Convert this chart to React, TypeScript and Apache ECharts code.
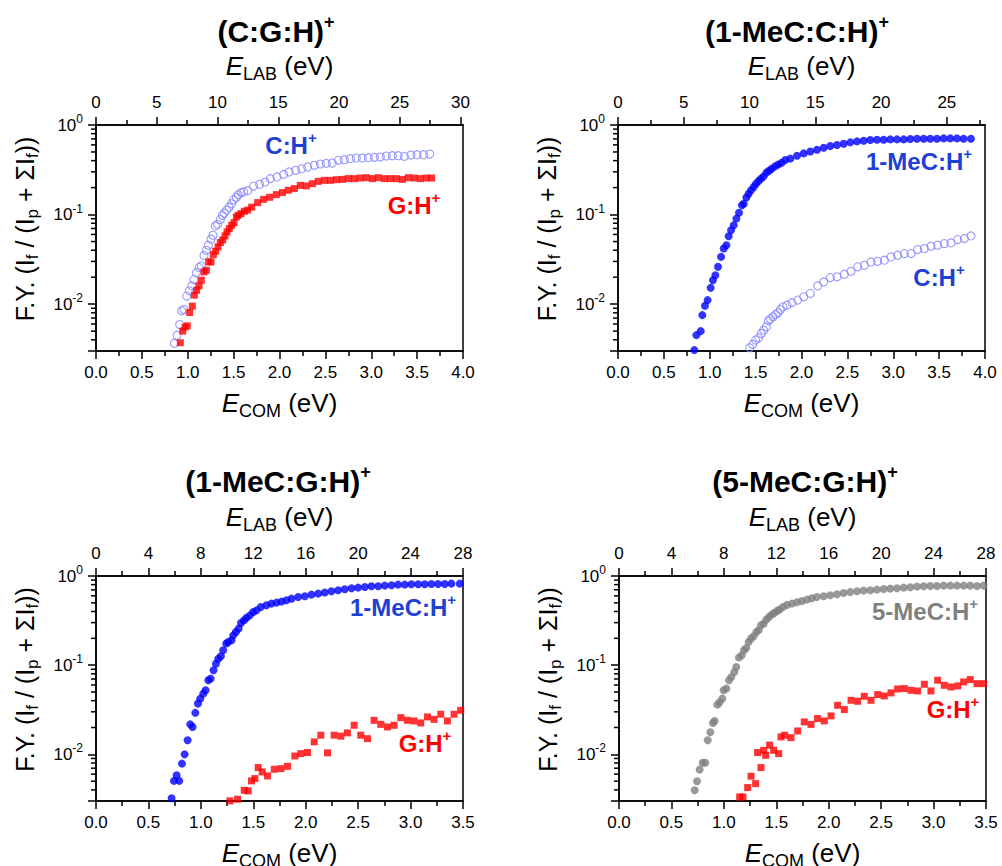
import React, { useEffect, useRef } from 'react';
import * as echarts from 'echarts';

// ---------- DATA ----------
// Panel 1: (C:G:H)+  [E_COM (eV), fragmentation yield]
const p1CH: number[][] = [[0.854,0.00365],[0.883,0.00451],[0.912,0.00593],[0.934,0.00843],[0.959,0.00871],[0.988,0.0123],[1.017,0.0141],[1.043,0.016],[1.068,0.0188],[1.094,0.0225],[1.123,0.0256],[1.148,0.0268],[1.177,0.0349],[1.203,0.04],[1.224,0.0455],[1.253,0.0531],[1.275,0.0588],[1.301,0.0747],[1.326,0.078],[1.355,0.0879],[1.377,0.0982],[1.399,0.104],[1.424,0.112],[1.45,0.121],[1.479,0.132],[1.5,0.146],[1.53,0.156],[1.551,0.167],[1.58,0.176],[1.609,0.179],[1.653,0.185],[1.718,0.208],[1.784,0.218],[1.842,0.231],[1.9,0.252],[1.973,0.263],[2.045,0.281],[2.104,0.299],[2.176,0.312],[2.242,0.325],[2.307,0.34],[2.38,0.355],[2.445,0.367],[2.51,0.373],[2.576,0.376],[2.641,0.403],[2.707,0.41],[2.772,0.421],[2.837,0.428],[2.903,0.428],[2.968,0.432],[3.034,0.435],[3.099,0.439],[3.164,0.451],[3.23,0.454],[3.295,0.454],[3.361,0.447],[3.433,0.462],[3.499,0.466],[3.571,0.466],[3.637,0.474]];
const p1GH: number[][] = [[0.919,0.00371],[0.945,0.005],[0.97,0.00554],[0.995,0.00573],[1.021,0.00807],[1.05,0.0095],[1.072,0.0126],[1.097,0.0143],[1.123,0.016],[1.148,0.0185],[1.177,0.0229],[1.203,0.0239],[1.228,0.0296],[1.253,0.0296],[1.279,0.0357],[1.304,0.039],[1.33,0.0436],[1.355,0.0487],[1.381,0.0521],[1.406,0.0578],[1.428,0.064],[1.453,0.0697],[1.479,0.076],[1.504,0.0813],[1.53,0.0941],[1.551,0.0982],[1.58,0.1025],[1.617,0.109],[1.653,0.112],[1.697,0.121],[1.762,0.136],[1.827,0.148],[1.893,0.156],[1.965,0.167],[2.031,0.176],[2.096,0.187],[2.162,0.195],[2.227,0.212],[2.292,0.209],[2.358,0.221],[2.423,0.235],[2.489,0.241],[2.554,0.241],[2.619,0.245],[2.685,0.247],[2.75,0.252],[2.816,0.252],[2.881,0.256],[2.946,0.258],[3.012,0.252],[3.077,0.258],[3.143,0.252],[3.208,0.252],[3.273,0.252],[3.339,0.247],[3.404,0.258],[3.47,0.256],[3.535,0.252],[3.6,0.256],[3.658,0.256]];

// Panel 2: (1-MeC:C:H)+
const p2MeCH: number[][] = [[0.832,0.00307],[0.854,0.00451],[0.901,0.005],[0.919,0.00754],[0.948,0.00958],[0.977,0.0111],[1.01,0.0152],[1.035,0.0185],[1.061,0.021],[1.09,0.0261],[1.123,0.0337],[1.152,0.0418],[1.181,0.0455],[1.206,0.0573],[1.232,0.0668],[1.261,0.076],[1.29,0.0902],[1.319,0.105],[1.351,0.127],[1.37,0.132],[1.399,0.155],[1.424,0.171],[1.45,0.187],[1.479,0.203],[1.504,0.221],[1.533,0.237],[1.559,0.252],[1.588,0.267],[1.617,0.294],[1.646,0.309],[1.675,0.325],[1.711,0.345],[1.747,0.363],[1.784,0.379],[1.824,0.406],[1.878,0.421],[1.951,0.454],[2.024,0.482],[2.096,0.507],[2.169,0.53],[2.242,0.557],[2.314,0.582],[2.387,0.597],[2.46,0.618],[2.532,0.64],[2.605,0.656],[2.678,0.668],[2.75,0.679],[2.823,0.685],[2.896,0.685],[2.968,0.691],[3.041,0.691],[3.114,0.691],[3.186,0.697],[3.259,0.703],[3.332,0.703],[3.404,0.703],[3.477,0.703],[3.55,0.709],[3.622,0.709],[3.695,0.709],[3.767,0.703],[3.847,0.703]];
const p2CH: number[][] = [[1.435,0.00326],[1.468,0.00355],[1.5,0.00397],[1.533,0.00421],[1.562,0.00471],[1.588,0.00513],[1.617,0.00559],[1.639,0.00652],[1.66,0.00681],[1.689,0.00723],[1.718,0.00767],[1.744,0.008],[1.769,0.00871],[1.798,0.00933],[1.842,0.00975],[1.896,0.0104],[1.958,0.0111],[2.024,0.0121],[2.096,0.0132],[2.176,0.016],[2.242,0.0177],[2.314,0.0198],[2.387,0.0202],[2.467,0.0216],[2.539,0.0233],[2.612,0.0261],[2.685,0.0272],[2.757,0.0296],[2.83,0.0301],[2.903,0.031],[2.975,0.0337],[3.048,0.0352],[3.121,0.0367],[3.193,0.0367],[3.266,0.0407],[3.339,0.0418],[3.411,0.0443],[3.484,0.0455],[3.557,0.0475],[3.629,0.0483],[3.702,0.0526],[3.775,0.054],[3.847,0.0578]];

// Panel 3: (1-MeC:G:H)+
const p3MeCH: number[][] = [[0.721,0.00322],[0.743,0.00504],[0.769,0.00583],[0.794,0.00504],[0.82,0.00787],[0.845,0.01],[0.874,0.0144],[0.899,0.0217],[0.921,0.0203],[0.947,0.0292],[0.972,0.0371],[0.994,0.0422],[1.023,0.048],[1.045,0.0523],[1.071,0.0678],[1.093,0.0707],[1.121,0.0877],[1.144,0.104],[1.166,0.118],[1.191,0.126],[1.213,0.147],[1.242,0.175],[1.261,0.182],[1.293,0.19],[1.309,0.216],[1.334,0.236],[1.36,0.257],[1.382,0.297],[1.41,0.318],[1.436,0.341],[1.468,0.362],[1.499,0.395],[1.531,0.412],[1.572,0.45],[1.626,0.469],[1.674,0.49],[1.722,0.503],[1.769,0.516],[1.817,0.534],[1.865,0.557],[1.928,0.582],[1.992,0.592],[2.055,0.618],[2.119,0.634],[2.182,0.652],[2.246,0.673],[2.309,0.691],[2.373,0.71],[2.437,0.728],[2.5,0.741],[2.564,0.753],[2.627,0.767],[2.691,0.767],[2.754,0.78],[2.818,0.787],[2.881,0.8],[2.945,0.8],[3.008,0.807],[3.072,0.807],[3.135,0.807],[3.199,0.814],[3.262,0.814],[3.326,0.814],[3.389,0.821],[3.469,0.821]];
const p3GH: number[][] = [[1.277,0.00301],[1.35,0.00314],[1.414,0.00396],[1.452,0.00389],[1.483,0.00504],[1.515,0.00535],[1.547,0.00711],[1.585,0.00636],[1.636,0.00573],[1.7,0.00681],[1.763,0.00692],[1.827,0.00735],[1.896,0.00959],[1.954,0.0102],[2.017,0.0105],[2.081,0.0138],[2.144,0.0164],[2.208,0.0104],[2.271,0.0164],[2.335,0.016],[2.398,0.0174],[2.462,0.0212],[2.525,0.0164],[2.589,0.015],[2.652,0.0241],[2.716,0.0217],[2.78,0.0203],[2.843,0.0212],[2.907,0.0258],[2.97,0.0241],[3.034,0.0237],[3.097,0.0225],[3.161,0.0263],[3.224,0.0247],[3.288,0.0282],[3.351,0.0237],[3.415,0.0282],[3.478,0.0312]];

// Panel 4: (5-MeC:G:H)+
const p4MeCH: number[][] = [[0.722,0.00396],[0.744,0.00499],[0.769,0.00675],[0.798,0.00807],[0.823,0.00807],[0.846,0.0144],[0.871,0.0177],[0.896,0.0225],[0.912,0.0237],[0.938,0.0361],[0.96,0.0384],[0.985,0.0422],[0.998,0.0523],[1.024,0.0546],[1.049,0.0677],[1.071,0.0738],[1.1,0.0839],[1.119,0.0955],[1.144,0.122],[1.17,0.129],[1.192,0.147],[1.214,0.156],[1.236,0.182],[1.259,0.199],[1.284,0.211],[1.31,0.236],[1.332,0.246],[1.354,0.28],[1.38,0.292],[1.405,0.324],[1.43,0.347],[1.456,0.369],[1.481,0.385],[1.507,0.406],[1.532,0.42],[1.564,0.45],[1.602,0.474],[1.65,0.49],[1.697,0.507],[1.745,0.525],[1.793,0.543],[1.84,0.562],[1.888,0.582],[1.952,0.592],[2.015,0.608],[2.079,0.624],[2.142,0.645],[2.206,0.662],[2.27,0.673],[2.333,0.685],[2.397,0.691],[2.46,0.703],[2.524,0.716],[2.587,0.722],[2.651,0.728],[2.715,0.741],[2.778,0.747],[2.842,0.76],[2.905,0.767],[2.969,0.773],[3.032,0.773],[3.096,0.78],[3.16,0.78],[3.223,0.78],[3.287,0.78],[3.35,0.78],[3.414,0.773],[3.477,0.78]];
const p4GH: number[][] = [[1.151,0.00333],[1.182,0.00333],[1.227,0.00424],[1.259,0.00569],[1.303,0.0047],[1.322,0.0105],[1.354,0.00711],[1.38,0.0111],[1.399,0.00977],[1.437,0.0127],[1.475,0.0111],[1.523,0.0102],[1.545,0.0157],[1.58,0.0164],[1.64,0.0154],[1.704,0.0183],[1.767,0.0231],[1.831,0.0217],[1.894,0.0252],[1.958,0.0237],[2.022,0.027],[2.085,0.0355],[2.149,0.0318],[2.213,0.0404],[2.276,0.0394],[2.339,0.0448],[2.403,0.0404],[2.467,0.0468],[2.53,0.0452],[2.594,0.0489],[2.657,0.0541],[2.721,0.0546],[2.785,0.0523],[2.848,0.0514],[2.912,0.0611],[2.975,0.0514],[3.039,0.0678],[3.102,0.0595],[3.166,0.057],[3.23,0.0585],[3.287,0.0649],[3.35,0.0689],[3.414,0.0621],[3.477,0.0621]];

// Axis tick values
const labMajor5 = [0, 5, 10, 15, 20, 25, 30];
const labMinor5 = [2.5, 7.5, 12.5, 17.5, 22.5, 27.5];
const labMajor4 = [0, 4, 8, 12, 16, 20, 24, 28];
const labMinor4 = [2, 6, 10, 14, 18, 22, 26];
const yMinorTicks = [0.004, 0.005, 0.006, 0.007, 0.008, 0.009, 0.02, 0.03, 0.04, 0.05, 0.06, 0.07, 0.08, 0.09, 0.2, 0.3, 0.4, 0.5, 0.6, 0.7, 0.8, 0.9];

const titles = ['(C:G:H)', '(1-MeC:C:H)', '(1-MeC:G:H)', '(5-MeC:G:H)'];

// ---------- STYLE ----------
const FF = "'Liberation Sans', Arial, Helvetica, sans-serif";
const BLUE = '#0000ff';
const BLUE_TEXT = '#1e40d4';
const OPEN = '#7f7fff';
const RED = '#ff0000';
const GRAY = '#808080';

type SeriesDef = { data: number[][]; kind: 'open' | 'square' | 'dot'; color: string };
type LabelDef = { text: string; x: number; y: number; color: string };
type PanelDef = {
  title: string; tx: number; ty: number;
  grid: { left: number; top: number; width: number; height: number };
  comMax: number; labMax: number; labMajor: number[]; labMinor: number[];
  series: SeriesDef[]; labels: LabelDef[];
};

const panels: PanelDef[] = [
  {
    title: titles[0], tx: 276, ty: 31,
    grid: { left: 96, top: 125, width: 367, height: 226 },
    comMax: 4, labMax: 30.2, labMajor: labMajor5, labMinor: labMinor5,
    series: [{ data: p1CH, kind: 'open', color: OPEN }, { data: p1GH, kind: 'square', color: RED }],
    labels: [{ text: 'C:H', x: 291, y: 145, color: BLUE_TEXT }, { text: 'G:H', x: 414, y: 205, color: RED }],
  },
  {
    title: titles[1], tx: 797, ty: 31,
    grid: { left: 618, top: 125, width: 367, height: 226 },
    comMax: 4, labMax: 27.9, labMajor: labMajor5.filter((v) => v <= 27.9), labMinor: labMinor5,
    series: [{ data: p2CH, kind: 'open', color: OPEN }, { data: p2MeCH, kind: 'dot', color: BLUE }],
    labels: [{ text: '1-MeC:H', x: 919, y: 161, color: BLUE_TEXT }, { text: 'C:H', x: 939, y: 277, color: BLUE_TEXT }],
  },
  {
    title: titles[2], tx: 278, ty: 481,
    grid: { left: 96, top: 576, width: 367, height: 225 },
    comMax: 3.5, labMax: 28, labMajor: labMajor4, labMinor: labMinor4,
    series: [{ data: p3MeCH, kind: 'dot', color: BLUE }, { data: p3GH, kind: 'square', color: RED }],
    labels: [{ text: '1-MeC:H', x: 403, y: 607, color: BLUE_TEXT }, { text: 'G:H', x: 425, y: 743, color: RED }],
  },
  {
    title: titles[3], tx: 805, ty: 481,
    grid: { left: 619, top: 576, width: 367, height: 225 },
    comMax: 3.5, labMax: 28, labMajor: labMajor4, labMinor: labMinor4,
    series: [{ data: p4MeCH, kind: 'dot', color: GRAY }, { data: p4GH, kind: 'square', color: RED }],
    labels: [{ text: '5-MeC:H', x: 925, y: 611, color: GRAY }, { text: 'G:H', x: 953, y: 709, color: RED }],
  },
];

const axisLineStyle = { color: '#000', width: 1.5 };

const nameRich = {
  i: { fontStyle: 'italic', fontSize: 26, lineHeight: 34, fontFamily: FF, color: '#000' },
  s: { fontSize: 18, lineHeight: 18, verticalAlign: 'bottom', fontFamily: FF, color: '#000' },
  n: { fontSize: 26, lineHeight: 34, fontFamily: FF, color: '#000' },
};

const yNameRich = {
  n: { fontSize: 25, lineHeight: 32, fontFamily: FF, color: '#000' },
  s: { fontSize: 17, lineHeight: 17, verticalAlign: 'bottom', fontFamily: FF, color: '#000' },
};

function buildOption() {
  const grid: any[] = [];
  const xAxis: any[] = [];
  const yAxis: any[] = [];
  const series: any[] = [];
  const title: any[] = [];

  panels.forEach((p, i) => {
    grid.push({
      ...p.grid,
      show: true,
      borderColor: '#000',
      borderWidth: 1.5,
      backgroundColor: 'transparent',
      outerBoundsMode: 'none',
      containLabel: false,
    });

    // bottom E_COM axis
    xAxis.push({
      type: 'value', gridIndex: i, position: 'bottom', min: 0, max: p.comMax, interval: 0.5,
      axisLine: { show: true, onZero: false, lineStyle: axisLineStyle },
      axisTick: { show: true, length: 8, lineStyle: axisLineStyle },
      minorTick: { show: true, splitNumber: 2, length: 5, lineStyle: axisLineStyle },
      splitLine: { show: false }, minorSplitLine: { show: false },
      axisLabel: {
        margin: 13, fontSize: 17, fontFamily: FF, color: '#000',
        formatter: (v: number) => v.toFixed(1),
      },
      name: '{i|E}{s|COM}{n| (eV)}', nameLocation: 'middle', nameGap: 35,
      nameTextStyle: { fontSize: 26, lineHeight: 34, fontFamily: FF, color: '#000', rich: nameRich },
    });
    // top E_LAB axis (major ticks + labels)
    xAxis.push({
      type: 'value', gridIndex: i, position: 'top', min: 0, max: p.labMax,
      axisLine: { show: true, onZero: false, lineStyle: axisLineStyle },
      axisTick: { show: true, length: 8, lineStyle: axisLineStyle, customValues: p.labMajor },
      splitLine: { show: false },
      axisLabel: {
        margin: 14, fontSize: 17, fontFamily: FF, color: '#000', customValues: p.labMajor,
        formatter: (v: number) => String(v),
      },
      name: '{i|E}{s|LAB}{n| (eV)}', nameLocation: 'middle', nameGap: 42,
      nameTextStyle: { fontSize: 26, lineHeight: 34, fontFamily: FF, color: '#000', rich: nameRich },
    });
    // top E_LAB axis (minor ticks)
    xAxis.push({
      type: 'value', gridIndex: i, position: 'top', min: 0, max: p.labMax,
      axisLine: { show: false, onZero: false },
      axisTick: { show: true, length: 5, lineStyle: axisLineStyle, customValues: p.labMinor },
      axisLabel: { show: false }, splitLine: { show: false },
    });

    yAxis.push({
      type: 'log', logBase: 10, gridIndex: i, min: 0.003, max: 1, position: 'left',
      axisLine: { show: true, onZero: false, lineStyle: axisLineStyle },
      axisTick: { show: true, length: 8, lineStyle: axisLineStyle },
      splitLine: { show: false },
      axisLabel: {
        margin: 13, fontSize: 17, lineHeight: 24, fontFamily: FF, color: '#000',
        formatter: (v: number) => {
          const e = Math.round(Math.log10(v));
          if (Math.abs(v - Math.pow(10, e)) / Math.pow(10, e) > 1e-6) return '';
          return '{b|10}{sup|' + e + '}';
        },
        rich: {
          b: { fontSize: 17, lineHeight: 24, fontFamily: FF, color: '#000' },
          sup: { fontSize: 12, lineHeight: 12, verticalAlign: 'top', fontFamily: FF, color: '#000' },
        },
      },
      name: '{n|F.Y. (I}{s|f}{n| / (I}{s|p}{n| + ΣI}{s|f}{n|))}',
      nameLocation: 'middle', nameRotate: 90, nameGap: 55,
      nameTextStyle: {
        fontSize: 25, lineHeight: 32, fontFamily: FF, color: '#000', rich: yNameRich,
        padding: [0, 0, 0, 18],
      },
    });

    // minor log ticks on the y axis, positioned through the axis scale
    series.push({
      type: 'custom', xAxisIndex: 3 * i, yAxisIndex: i, silent: true, clip: false, z: 5,
      data: yMinorTicks.map((v) => [0, v]),
      renderItem: (_params: any, api: any) => {
        const pt = api.coord([api.value(0), api.value(1)]);
        return {
          type: 'line',
          shape: { x1: pt[0] - 5, y1: pt[1], x2: pt[0], y2: pt[1] },
          style: { stroke: '#000', lineWidth: 1.5 },
        };
      },
    });

    p.series.forEach((s) => {
      const base: any = {
        type: 'scatter', xAxisIndex: 3 * i, yAxisIndex: i, data: s.data, clip: false,
        emphasis: { disabled: true }, silent: true,
      };
      if (s.kind === 'open') {
        base.symbol = 'circle';
        base.symbolSize = 8;
        base.itemStyle = { color: 'rgba(255,255,255,0)', borderColor: s.color, borderWidth: 1.1 };
      } else if (s.kind === 'square') {
        base.symbol = 'rect';
        base.symbolSize = 7;
        base.itemStyle = { color: s.color };
      } else {
        base.symbol = 'circle';
        base.symbolSize = 8;
        base.itemStyle = { color: s.color };
      }
      series.push(base);
    });

    title.push({
      text: '{m|' + p.title + '}{sup|+}',
      left: p.tx, top: p.ty, textAlign: 'center', textVerticalAlign: 'middle', padding: 0,
      textStyle: {
        fontSize: 30, fontWeight: 'bold', fontFamily: FF, color: '#000', lineHeight: 36,
        rich: {
          m: { fontSize: 30, fontWeight: 'bold', fontFamily: FF, color: '#000', lineHeight: 36 },
          sup: { fontSize: 18, fontWeight: 'bold', fontFamily: FF, color: '#000', lineHeight: 22, verticalAlign: 'top' },
        },
      },
    });

    p.labels.forEach((l) => {
      title.push({
        text: '{m|' + l.text + '}{sup|+}',
        left: l.x, top: l.y, textAlign: 'center', textVerticalAlign: 'middle', padding: 0,
        textStyle: {
          fontSize: 24, fontWeight: 'bold', fontFamily: FF, color: l.color, lineHeight: 30,
          rich: {
            m: { fontSize: 24, fontWeight: 'bold', fontFamily: FF, color: l.color, lineHeight: 30 },
            sup: { fontSize: 15, fontWeight: 'bold', fontFamily: FF, color: l.color, lineHeight: 17, verticalAlign: 'top' },
          },
        },
      });
    });
  });

  return {
    animation: false,
    backgroundColor: '#fff',
    title,
    grid,
    xAxis,
    yAxis,
    series,
  };
}

export default function App() {
  const ref = useRef<HTMLDivElement>(null);
  useEffect(() => {
    if (!ref.current) return;
    const chart = echarts.init(ref.current, null, { renderer: 'svg' });
    chart.setOption(buildOption() as any);
    return () => chart.dispose();
  }, []);
  return (
    <div
      ref={ref}
      style={{ position: 'fixed', left: 0, top: 0, width: 1002, height: 866, background: '#fff' }}
    />
  );
}
